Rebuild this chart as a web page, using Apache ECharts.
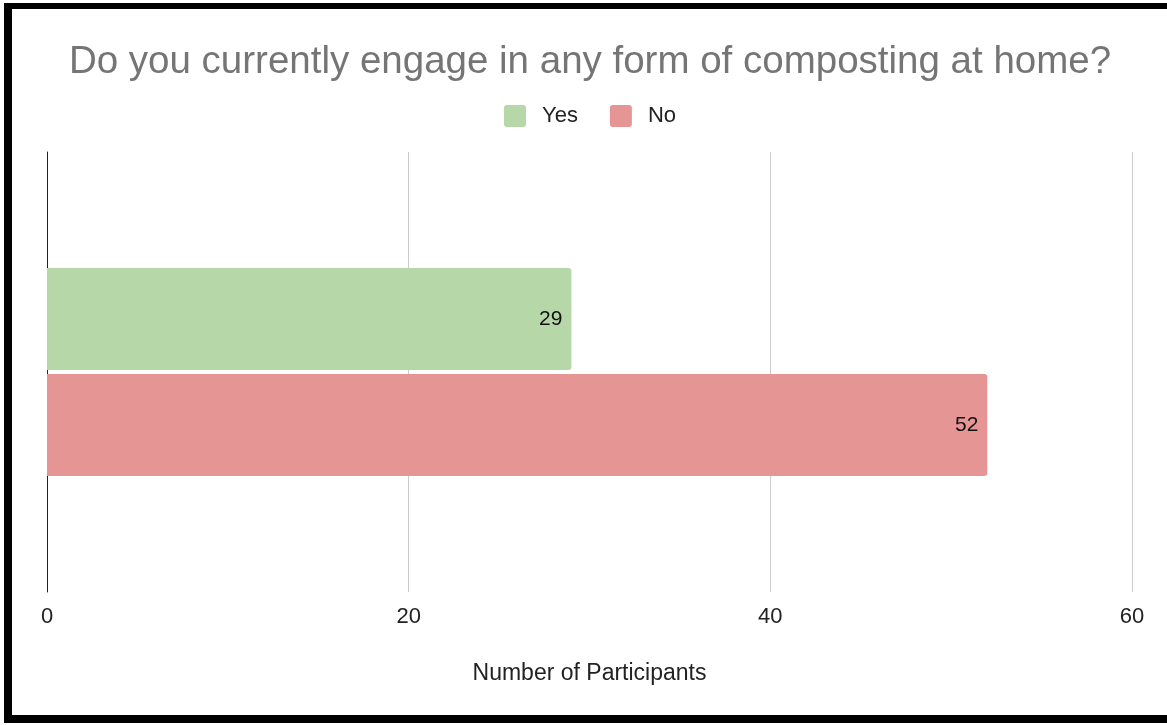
<!DOCTYPE html>
<html><head><meta charset="utf-8">
<script src="https://cdn.jsdelivr.net/npm/echarts@6/dist/echarts.min.js"></script>
<style>
html,body{margin:0;padding:0;background:#fff;overflow:hidden;}
#c{position:absolute;left:0;top:0;width:1180px;height:725px;}
#frame{position:absolute;left:4px;top:3px;width:1300px;height:720px;box-sizing:border-box;border-left:8px solid #000;border-top:6px solid #000;border-bottom:8px solid #000;pointer-events:none;}
</style></head>
<body><div id="c"></div><div id="frame"></div>
<script>
const titleText = 'Do you currently engage in any form of composting at home?';
const categories = [''];
const seriesNames = ['Yes', 'No'];
const yesValues = [29];
const noValues = [52];
const xTicks = [0, 20, 40, 60];
const xAxisName = 'Number of Participants';
const colors = ['#b6d7a8', '#e69595'];

const chart = echarts.init(document.getElementById('c'), null, {renderer: 'canvas'});
const FONT = 'Liberation Sans, Arial, sans-serif';
const ICON = 'path://M3,0H19A3,3,0,0,1,22,3V19A3,3,0,0,1,19,22H3A3,3,0,0,1,0,19V3A3,3,0,0,1,3,0Z';
chart.setOption({
  animation: false,
  backgroundColor: '#fff',
  color: colors,
  title: {
    text: titleText, left: 'center', top: 38,
    textStyle: {fontFamily: FONT, fontSize: 38.5, fontWeight: 'normal', color: '#757575'}
  },
  legend: {
    data: seriesNames, top: 100, left: 'center', itemWidth: 22, itemHeight: 22, itemGap: 32,
    icon: ICON,
    textStyle: {fontFamily: FONT, fontSize: 22, color: '#222', padding: [0,0,0,11]}
  },
  grid: {left: 47, right: 48, top: 152, bottom: 133, containLabel: false},
  xAxis: {
    type: 'value', min: xTicks[0], max: xTicks[xTicks.length-1], interval: 20,
    name: xAxisName, nameLocation: 'middle', nameGap: 70,
    nameTextStyle: {fontFamily: FONT, fontSize: 23, color: '#222'},
    axisLine: {show: false}, axisTick: {show: false},
    axisLabel: {fontFamily: FONT, fontSize: 22, color: '#222', margin: 14},
    splitLine: {show: true, lineStyle: {color: '#cccccc', width: 1}}
  },
  yAxis: {
    type: 'category', data: categories,
    axisLine: {show: true, lineStyle: {color: '#222', width: 1}},
    axisTick: {show: false}, axisLabel: {show: false}, splitLine: {show: false}
  },
  series: [
    {name: seriesNames[0], type: 'bar', data: yesValues, barWidth: 102, barGap: '4%',
     itemStyle: {borderRadius: [0, 3, 3, 0]},
     label: {show: true, position: 'insideRight', distance: 9, fontFamily: FONT, fontSize: 21, color: '#111'}},
    {name: seriesNames[1], type: 'bar', data: noValues, barWidth: 102, barGap: '4%',
     itemStyle: {borderRadius: [0, 3, 3, 0]},
     label: {show: true, position: 'insideRight', distance: 9, fontFamily: FONT, fontSize: 21, color: '#111'}}
  ]
});
</script></body></html>
